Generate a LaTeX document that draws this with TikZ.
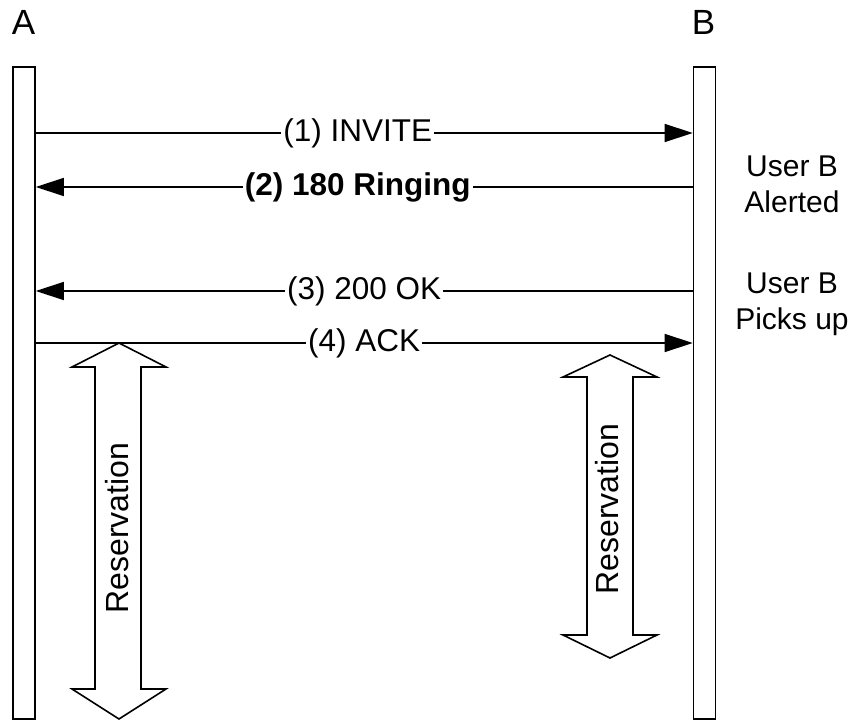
\documentclass[tikz,border=0pt]{standalone}
\usepackage{fontspec}
\setmainfont{Liberation Sans}
\usetikzlibrary{arrows.meta}
\begin{document}
\begin{tikzpicture}[x=1pt,y=-1pt,line width=1.6pt,
  every node/.style={font=\fontsize{30}{36}\selectfont},
  lifeline/.style={draw,fill=white,minimum width=22pt,minimum height=652pt,inner sep=0pt},
  msg/.style={-{Triangle[length=28pt,width=18pt]},shorten >=0pt},
  msglabel/.style={fill=white,inner xsep=2pt,inner ysep=1pt,font=\fontsize{31.5}{36}\selectfont},
  headlabel/.style={anchor=base,font=\fontsize{35}{40}\selectfont},
  reslabel/.style={rotate=90,font=\fontsize{32}{36}\selectfont},
  resarrow/.style={draw,fill=white,line join=miter},
  note/.style={align=center}]
\useasboundingbox (0,0) rectangle (857,722);
% lifelines
\node[lifeline] (lifeA) at (24,393) {};
\node[lifeline] (lifeB) at (704.5,393) {};
\node[headlabel] (labA) at (23.5,35) {A};
\node[headlabel] (labB) at (703.5,35) {B};
% message end points
\coordinate (a1) at (lifeA.east |- 0,133);
\coordinate (b1) at (lifeB.west |- 0,133);
\coordinate (a2) at (lifeA.east |- 0,187);
\coordinate (b2) at (lifeB.west |- 0,187);
\coordinate (a3) at (lifeA.east |- 0,291);
\coordinate (b3) at (lifeB.west |- 0,291);
\coordinate (a4) at (lifeA.east |- 0,343);
\coordinate (b4) at (lifeB.west |- 0,343);
% messages
\draw[msg] (a1) -- node[msglabel,pos=0.49] (m1) {(1) INVITE} (b1);
\draw[msg] (b2) -- node[msglabel,pos=0.51] (m2) {\bfseries (2) 180 Ringing} (a2);
\draw[msg] (b3) -- node[msglabel] (m3) {(3) 200 OK} (a3);
\draw[msg] (a4) -- node[msglabel] (m4) {(4) ACK} (b4);
% notes
\node[note,anchor=base] (n1a) at (792,177) {User B};
\node[note,anchor=base] (n1b) at (792,213) {Alerted};
\node[note,anchor=base] (n2a) at (792,293) {User B};
\node[note,anchor=base] (n2b) at (792,329) {Picks up};
% reservation double arrows
\draw[resarrow] (119,343) -- (166,367) -- (141,367) -- (141,689) -- (166,689)
  -- (119,719) -- (72,689) -- (95,689) -- (95,367) -- (72,367) -- cycle;
\node[reslabel] (resA) at (117,528) {Reservation};
\draw[resarrow] (610,355) -- (657,377) -- (633,377) -- (633,635) -- (657,635)
  -- (610,658) -- (563,635) -- (587,635) -- (587,377) -- (563,377) -- cycle;
\node[reslabel] (resB) at (607,509) {Reservation};
\end{tikzpicture}
\end{document}
